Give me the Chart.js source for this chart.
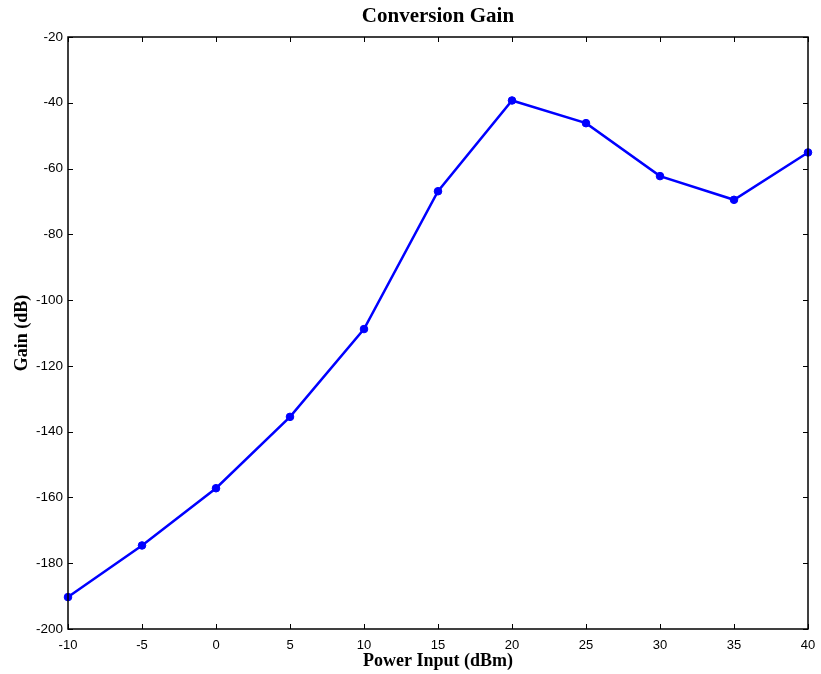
<!DOCTYPE html>
<html><head><meta charset="utf-8">
<script src="https://cdn.jsdelivr.net/npm/chart.js@4.4.0/dist/chart.umd.min.js"></script>
<style>html,body{margin:0;padding:0;background:#fff;}#wrap{width:821px;height:674px;}</style>
</head><body><div id="wrap"><canvas id="c" width="821" height="674"></canvas></div>
<script>
const chartTitle = 'Conversion Gain';
const powerInput = [-10, -5, 0, 5, 10, 15, 20, 25, 30, 35, 40];
const gain = [-190.3, -174.6, -157.2, -135.5, -108.8, -66.9, -39.3, -46.2, -62.3, -69.5, -55.1];
const xTicks = [-10, -5, 0, 5, 10, 15, 20, 25, 30, 35, 40];
const yTicks = [-200, -180, -160, -140, -120, -100, -80, -60, -40, -20];

const boxPlugin = {
  id: 'matlabBox',
  afterDraw(chart) {
    const ctx = chart.ctx, a = chart.chartArea;
    const xs = chart.scales.x, ys = chart.scales.y;
    ctx.save();
    ctx.strokeStyle = '#000';
    ctx.lineWidth = 1;
    const L = 5;
    ctx.beginPath();
    xTicks.forEach(v => {
      const px = Math.round(xs.getPixelForValue(v)) + 0.5;
      ctx.moveTo(px, a.bottom); ctx.lineTo(px, a.bottom - L);
      ctx.moveTo(px, a.top); ctx.lineTo(px, a.top + L);
    });
    yTicks.forEach(v => {
      const py = Math.round(ys.getPixelForValue(v)) + 0.5;
      ctx.moveTo(a.left, py); ctx.lineTo(a.left + L, py);
      ctx.moveTo(a.right, py); ctx.lineTo(a.right - L, py);
    });
    ctx.stroke();
    ctx.lineWidth = 1.5;
    ctx.strokeRect(a.left, a.top, a.right - a.left, a.bottom - a.top);
    // title centred over the plot box
    ctx.fillStyle = '#000';
    ctx.font = 'bold 21px "Liberation Serif", "Times New Roman", serif';
    ctx.textAlign = 'center';
    ctx.textBaseline = 'middle';
    ctx.fillText(chartTitle, (a.left + a.right) / 2, 17);
    ctx.restore();
  }
};

new Chart(document.getElementById('c'), {
  type: 'line',
  data: {
    datasets: [{
      data: powerInput.map((x, i) => ({x: x, y: gain[i]})),
      borderColor: '#0000FF',
      backgroundColor: '#0000FF',
      borderWidth: 2.5,
      pointStyle: 'circle',
      pointRadius: 3.8,
      pointBorderWidth: 1,
      tension: 0,
      clip: false
    }]
  },
  options: {
    responsive: false,
    animation: false,
    devicePixelRatio: 1,
    layout: { padding: { left: 0, right: 13, top: 37, bottom: 0 } },
    plugins: {
      legend: { display: false },
      tooltip: { enabled: false },
      title: { display: false }
    },
    scales: {
      x: {
        type: 'linear',
        min: -10, max: 40,
        afterBuildTicks: s => { s.ticks = xTicks.map(v => ({value: v})); },
        afterFit: s => { s.height = 45; s.paddingRight = 0; s.paddingLeft = 0; },
        grid: { display: false, drawTicks: false },
        border: { display: false },
        ticks: { color: '#000', padding: 9, font: { family: '"Liberation Sans", Arial, sans-serif', size: 13 }, maxRotation: 0 },
        title: {
          display: true, text: 'Power Input (dBm)', color: '#000',
          font: { family: '"Liberation Serif", "Times New Roman", serif', size: 18, weight: 'bold' },
          padding: { top: 0, bottom: 2 }
        }
      },
      y: {
        type: 'linear',
        min: -200, max: -20,
        afterBuildTicks: s => { s.ticks = yTicks.map(v => ({value: v})); },
        afterFit: s => { s.width = 68; },
        grid: { display: false, drawTicks: false },
        border: { display: false },
        ticks: { color: '#000', padding: 5, font: { family: '"Liberation Sans", Arial, sans-serif', size: 13.5 } },
        title: {
          display: true, text: 'Gain (dB)', color: '#000',
          font: { family: '"Liberation Serif", "Times New Roman", serif', size: 18, weight: 'bold' },
          padding: { top: 12, bottom: 0 }
        }
      }
    }
  },
  plugins: [boxPlugin]
});
</script></body></html>
